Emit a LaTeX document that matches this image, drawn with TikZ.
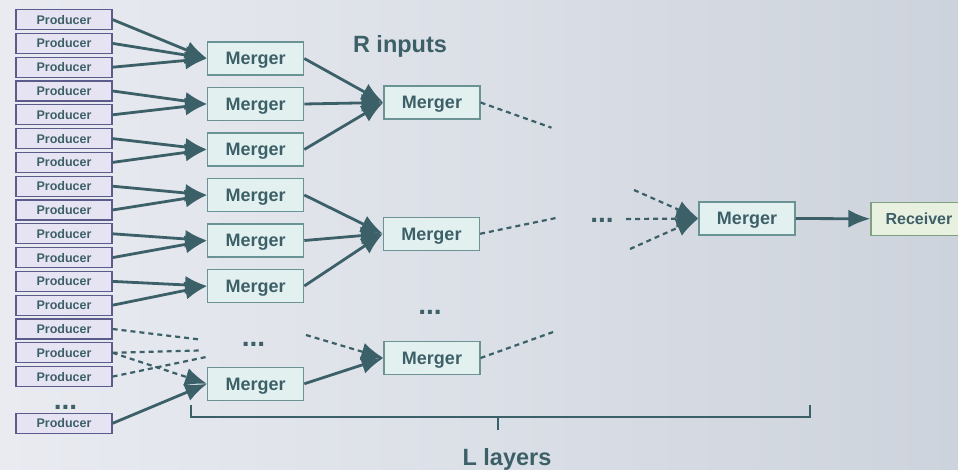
\documentclass[tikz,border=0pt]{standalone}
\usepackage{fontspec}
\setmainfont{Liberation Sans}
\usetikzlibrary{arrows.meta}
\definecolor{lineC}{HTML}{3C6068}
\definecolor{txtC}{HTML}{3D6068}
\definecolor{prodF}{HTML}{E6E4F3}
\definecolor{prodB}{HTML}{5C5C8C}
\definecolor{mergF}{HTML}{E2F0F0}
\definecolor{mergB}{HTML}{6A9494}
\definecolor{recvF}{HTML}{E8F0E0}
\definecolor{recvB}{HTML}{7FA080}
\definecolor{bgL}{HTML}{E9EBF1}
\definecolor{bgR}{HTML}{CDD3DC}
\tikzset{
  boxbase/.style={line width=1.2pt, inner sep=0pt, text depth=0pt, text=txtC},
  prod/.style={boxbase, draw=prodB, fill=prodF, minimum width=96pt, minimum height=20pt, text height=8.95pt, font=\bfseries\fontsize{12.5}{12.5}\selectfont},
  merg/.style={boxbase, draw=mergB, fill=mergF, minimum width=96pt, minimum height=33pt, text height=12.9pt, font=\bfseries\fontsize{18}{18}\selectfont},
  recv/.style={boxbase, draw=recvB, fill=recvF, minimum width=96pt, minimum height=33pt, text height=11.46pt, font=\bfseries\fontsize{16}{16}\selectfont},
  conn/.style={draw=lineC, line width=2.8pt, -{Latex[length=22pt,width=18pt]}},
  dconn/.style={draw=lineC, line width=2.2pt, dash pattern=on 5pt off 4pt, -{Latex[length=22pt,width=18pt]}},
  dline/.style={draw=lineC, line width=2.2pt, dash pattern=on 5pt off 4pt},
  dots/.style={anchor=base, text=txtC, font=\bfseries\fontsize{28}{28}\selectfont, inner sep=0pt},
  lbl/.style={text=txtC, font=\bfseries\fontsize{23.5}{23.5}\selectfont, inner sep=0pt, text height=16.8pt, text depth=0pt},
}
\begin{document}
\begin{tikzpicture}[x=1pt,y=-1pt]
\useasboundingbox (0,0) rectangle (958,470);
\shade[left color=bgL, right color=bgR] (0,0) rectangle (958,470);
% producers
\foreach \i in {1,...,16}{
  \node[prod] (p\i) at (64, {19.6+23.8*(\i-1)}) {Producer};
}
\node[prod] (p17) at (64, 423.3) {Producer};
\node[dots] (pd) at (65.5, 409) {...};
% level 1 mergers
\node[merg] (m1) at (255.7, 58.5) {Merger};
\node[merg] (m2) at (255.7, 104) {Merger};
\node[merg] (m3) at (255.7, 149.5) {Merger};
\node[merg] (m4) at (255.7, 195) {Merger};
\node[merg] (m5) at (255.7, 240.5) {Merger};
\node[merg] (m6) at (255.7, 286) {Merger};
\node[merg] (m7) at (255.7, 383.8) {Merger};
\node[dots] (d1) at (253.5, 346) {...};
% level 2 mergers
\node[merg] (n1) at (432, 102.5) {Merger};
\node[merg] (n2) at (431.5, 233.8) {Merger};
\node[merg] (n3) at (432, 358) {Merger};
\node[dots] (d2) at (430, 314) {...};
% final
\node[merg] (f) at (747, 218.5) {Merger};
\node[recv] (r) at (919, 218.8) {Receiver};
\node[dots] (d3) at (602, 222.5) {...};
% labels
\node[lbl] (rin) at (400, 44) {R inputs};
\node[lbl] (lay) at (507, 457) {L layers};
% coordinates of free ends
\coordinate (e14) at (200, 339.5);
\coordinate (e15) at (200, 350.5);
\coordinate (e16) at (207.5, 356.7);
\coordinate (s3) at (306, 335);
\coordinate (o1) at (551.5, 127.7);
\coordinate (o2) at (556, 218);
\coordinate (o3) at (554, 331.7);
\coordinate (i1) at (634, 190);
\coordinate (i2) at (626, 219);
\coordinate (i3) at (630, 249);
% producers to level 1
\foreach \a/\b in {p1/m1,p2/m1,p3/m1,p4/m2,p5/m2,p6/m3,p7/m3,p8/m4,p9/m4,p10/m5,p11/m5,p12/m6,p13/m6,p17/m7}{
  \draw[conn] (\a.east) -- (\b.west);
}
\draw[dline] (p14.east) -- (e14);
\draw[dline] (p15.east) -- (e15);
\draw[dline] (p16.east) -- (e16);
\draw[dconn] (p15.east) -- (m7.west);
% level 1 to level 2
\foreach \a/\b in {m1/n1,m2/n1,m3/n1,m4/n2,m5/n2,m6/n2,m7/n3}{
  \draw[conn] (\a.east) -- (\b.west);
}
\draw[dconn] (s3) -- (n3.west);
% level 2 outputs
\draw[dline] (n1.east) -- (o1);
\draw[dline] (n2.east) -- (o2);
\draw[dline] (n3.east) -- (o3);
% final inputs
\draw[dconn] (i1) -- (f.west);
\draw[dconn] (i2) -- (f.west);
\draw[dconn] (i3) -- (f.west);
\draw[conn] (f.east) -- (r.west);
% bracket
\draw[lineC, line width=2.5pt] (191,405) -- (191,417) -- (810,417) -- (810,405);
\draw[lineC, line width=2.5pt] (498,417) -- (498,430);
\end{tikzpicture}
\end{document}
